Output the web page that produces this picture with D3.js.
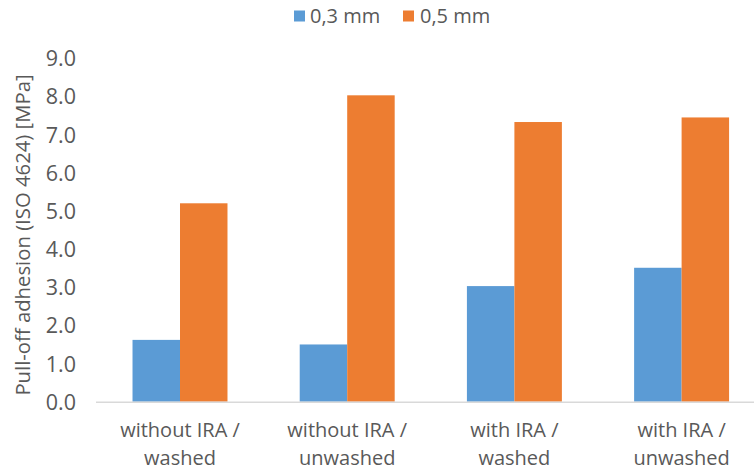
<!DOCTYPE html>
<html>
<head>
<meta charset="utf-8">
<script src="https://cdn.jsdelivr.net/npm/d3@7"></script>
<style>
  html, body { margin: 0; padding: 0; background: #fff; }
  svg { display: block; }
  text { font-family: "Open Sans", sans-serif; fill: #595959; }
</style>
</head>
<body>
<svg id="chart" width="754" height="471"></svg>
<script>
const categories = [["without IRA /", "washed"], ["without IRA /", "unwashed"], ["with IRA /", "washed"], ["with IRA /", "unwashed"]];
const seriesNames = ["0,3 mm", "0,5 mm"];
const series03 = [1.62, 1.50, 3.03, 3.51];
const series05 = [5.20, 8.03, 7.33, 7.45];
const yTicks = [0, 1, 2, 3, 4, 5, 6, 7, 8, 9];
const yTitle = "Pull-off adhesion (ISO 4624) [MPa]";
const colors = ["#5B9BD5", "#ED7D31"];

const svg = d3.select("#chart");
const catKeys = categories.map((c, i) => i);

const x0 = d3.scaleBand().domain(catKeys).range([96.4, 765.2]).paddingInner(0.432).paddingOuter(0.216);
const x1 = d3.scaleBand().domain([0, 1]).range([0, x0.bandwidth()]).padding(0);
const y = d3.scaleLinear().domain([0, 9]).range([401.7, 58.3]);

// bars
const data = catKeys.map(i => [series03[i], series05[i]]);
const g = svg.append("g");
const groups = g.selectAll("g.grp").data(data).join("g")
  .attr("transform", (d, i) => `translate(${x0(i)},0)`);
groups.selectAll("rect").data(d => d.map((v, s) => ({v, s}))).join("rect")
  .attr("x", d => x1(d.s))
  .attr("width", x1.bandwidth())
  .attr("y", d => y(d.v))
  .attr("height", d => y(0) - y(d.v))
  .attr("fill", d => colors[d.s]);

// x axis baseline
svg.append("line")
  .attr("x1", 96).attr("x2", 754)
  .attr("y1", y(0) + 0.5).attr("y2", y(0) + 0.5)
  .attr("stroke", "#D9D9D9").attr("stroke-width", 1.5);

// y axis labels
const yAxis = d3.axisLeft(y).tickValues(yTicks).tickFormat(d3.format(".1f")).tickSize(0).tickPadding(0);
const ya = svg.append("g").attr("transform", "translate(76,0)").call(yAxis);
ya.select(".domain").remove();
ya.selectAll("text").style("font-family", "'Open Sans', sans-serif").style("font-size", "21.5px").attr("fill", "#595959").attr("dy", "0.35em");

// x labels
const xl = svg.append("g");
catKeys.forEach(i => {
  const cx = x0(i) + x0.bandwidth() / 2;
  const t = xl.append("text").attr("text-anchor", "middle").style("font-size", "20px");
  categories[i].forEach((line, k) => {
    t.append("tspan").attr("x", cx).attr("y", 437 + k * 28).text(line);
  });
});

// y title
svg.append("text")
  .attr("transform", `translate(29.5,235) rotate(-90)`)
  .attr("text-anchor", "middle")
  .style("font-size", "20.3px")
  .text(yTitle);

// legend
const legendItems = [{x: 294, tx: 310}, {x: 403, tx: 420}];
seriesNames.forEach((name, i) => {
  svg.append("rect").attr("x", legendItems[i].x).attr("y", 10.5).attr("width", 11).attr("height", 11).attr("fill", colors[i]);
  svg.append("text").attr("x", legendItems[i].tx).attr("y", 16).attr("dy", "0.35em").style("font-size", "20px").text(name);
});
</script>
</body>
</html>
